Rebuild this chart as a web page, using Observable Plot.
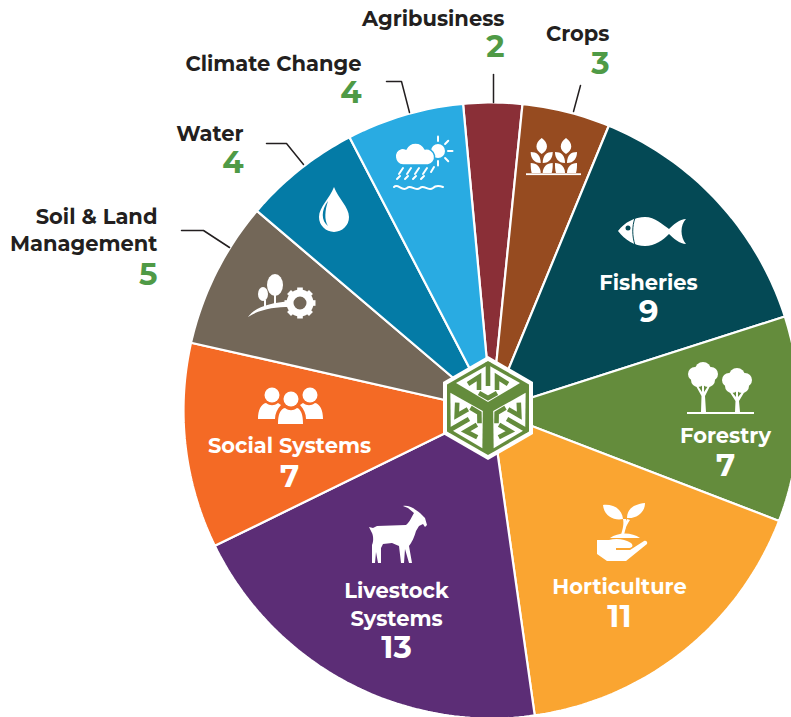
<!DOCTYPE html>
<html>
<head>
<meta charset="utf-8">
<script src="https://cdn.jsdelivr.net/npm/d3@7"></script>
<script src="https://cdn.jsdelivr.net/npm/@observablehq/plot@0.6"></script>
<style>
html,body{margin:0;padding:0;background:#fff}
svg{display:block}
</style>
</head>
<body>
<script>
// ---------- data ----------
const categories = ["Agribusiness","Crops","Fisheries","Forestry","Horticulture","Livestock Systems","Social Systems","Soil & Land Management","Water","Climate Change"];
const counts = [2,3,9,7,11,13,7,5,4,4];
const sliceColors = ["#8a2f37","#964b20","#044955","#648c3c","#faa531","#5c2d76","#f46a25","#736758","#047ba6","#29abe2"];
const labelLines = [["Agribusiness"],["Crops"],["Fisheries"],["Forestry"],["Horticulture"],["Livestock","Systems"],["Social Systems"],["Soil & Land","Management"],["Water"],["Climate Change"]];

// ---------- layout ----------
const pie = {cx:491, cy:410, r:308, startDeg:-5.3};
const labelPlaces = [
  {x:504,y:19,vy:47,anchor:"end",out:true},
  {x:609,y:34,vy:64,anchor:"end",out:true},
  {x:648,y:283,vy:312,anchor:"middle"},
  {x:725,y:436,vy:466,anchor:"middle"},
  {x:619,y:587,vy:617,anchor:"middle"},
  {x:396,y:591,vy:648,anchor:"middle",lh:28},
  {x:289,y:446,vy:477,anchor:"middle"},
  {x:157,y:217,vy:275,anchor:"end",out:true,lh:27},
  {x:243,y:134,vy:163,anchor:"end",out:true},
  {x:361,y:64,vy:93,anchor:"end",out:true}
];
const leaders = [
  [[493,102],[493,74]],
  [[573,111],[580,85]],
  [[229,247],[203,230],[181,230]],
  [[303,164],[286,143],[266,143]],
  [[409,112],[401,81],[386,81]]
];

// ---------- slices ----------
const total = d3.sum(counts);
let acc = 0;
const slicePoints = categories.flatMap((c,i)=>{
  const a0 = pie.startDeg + acc/total*360;
  acc += counts[i];
  const a1 = pie.startDeg + acc/total*360;
  const pts = [{c,x:pie.cx,y:pie.cy}];
  const n = Math.ceil(a1-a0);
  for(let k=0;k<=n;k++){
    const a=(a0+(a1-a0)*k/n)*Math.PI/180;
    pts.push({c,x:pie.cx+pie.r*Math.sin(a),y:pie.cy-pie.r*Math.cos(a)});
  }
  pts.push({c,x:pie.cx,y:pie.cy});
  return pts;
});

// ---------- text rows ----------
const nameRows = categories.flatMap((c,i)=>labelLines[i].map((t,j)=>({
  t, x:labelPlaces[i].x, y:labelPlaces[i].y + j*(labelPlaces[i].lh||0), anchor:labelPlaces[i].anchor, out:!!labelPlaces[i].out
})));
const valueRows = categories.map((c,i)=>({
  t:String(counts[i]), x:labelPlaces[i].x, y:labelPlaces[i].vy, anchor:labelPlaces[i].anchor, out:!!labelPlaces[i].out
}));
const FONT = "Montserrat, Inter, 'Open Sans', sans-serif";
const textMarks = (rows,size,fillOut,fillIn)=>["start","middle","end"].flatMap(an=>
  [true,false].map(o=>Plot.text(rows.filter(r=>r.anchor===an&&r.out===o),{
    x:"x",y:"y",text:"t",textAnchor:an,fontSize:size,fontWeight:700,fontFamily:FONT,
    fill:o?fillOut:fillIn,lineAnchor:"middle"
  })));

// ---------- icons (decorative vector glyphs placed through the scales) ----------
const plant = cx=>`<path d="M${cx} 138C${cx+7} 143 ${cx+7} 150 ${cx} 154C${cx-7} 150 ${cx-7} 143 ${cx} 138Z"/>
<path d="M${cx-1} 163C${cx-8} 163 ${cx-11} 158 ${cx-11} 152C${cx-5} 152 ${cx-1} 155 ${cx-1} 163Z"/>
<path d="M${cx+1} 163C${cx+8} 163 ${cx+11} 158 ${cx+11} 152C${cx+5} 152 ${cx+1} 155 ${cx+1} 163Z"/>
<path d="M${cx-1} 173L${cx-10} 173C${cx-11} 170 ${cx-11} 166 ${cx-11} 163C${cx-5} 163 ${cx-1} 167 ${cx-1} 173Z"/>
<path d="M${cx+1} 173L${cx+10} 173C${cx+11} 170 ${cx+11} 166 ${cx+11} 163C${cx+5} 163 ${cx+1} 167 ${cx+1} 173Z"/>`;
const rays = d3.range(8).filter(i=>i!==4&&i!==5).map(i=>{
  const a=i*Math.PI/4;
  return `<line x1="${438+10*Math.cos(a)}" y1="${151+10*Math.sin(a)}" x2="${438+14.5*Math.cos(a)}" y2="${151+14.5*Math.sin(a)}"/>`;
}).join("");
const rain = [[399,174,403,168],[407,174,411,168],[415,174,419,168],[423,174,427,168],[431,172,434,167],
              [397,179,400,176],[405,179,408,176],[413,179,416,176],[421,179,424,176]]
  .map(l=>`<line x1="${l[0]}" y1="${l[1]}" x2="${l[2]}" y2="${l[3]}"/>`).join("");
const teeth = d3.range(8).map(i=>`<rect x="297.2" y="287.5" width="5.6" height="5" transform="rotate(${i*45} 300 303)"/>`).join("");
const canopy = (cx,cy)=>[[0,-6,8],[-8,-2,7],[8,-2,7],[-5,4,7],[5,4,7],[0,0,8]].map(c=>`<circle cx="${cx+c[0]}" cy="${cy+c[1]}" r="${c[2]}"/>`).join("");
const hexPts = (r,w)=>`0,${-r} ${w},${-r/2} ${w},${r/2} 0,${r} ${-w},${r/2} ${-w},${-r/2}`;
const face = rot=>`<g transform="rotate(${rot})">
<polygon points="0,-6 -32,-25 0,-43 32,-25" fill="#fff"/>
<path d="M0 -46V-22M-20 -24L-9 -31V-18M20 -24L9 -31V-18M-9 -15L0 -10L9 -15" fill="none" stroke="#648c3c" stroke-width="4.6"/>
</g>`;

const iconSvg = `
<g fill="#fff">
  <!-- climate -->
  <circle cx="438" cy="151" r="7"/>
  <g stroke="#fff" stroke-width="2" stroke-linecap="round">${rays}</g>
  <path d="M403 165A8.5 8.5 0 0 1 401 148.5A9 9 0 0 1 406 149A10.5 10.5 0 0 1 425 149A8 8 0 0 1 428 165Z" stroke="#29abe2" stroke-width="1.5"/>
  <g stroke="#fff" stroke-width="2" stroke-linecap="round">${rain}</g>
  <path d="M394 187C398 183 402 192 407 188C411 184 415 192 420 188C424 184 428 192 433 188C436 185 440 186 443 187" fill="none" stroke="#fff" stroke-width="2" stroke-linecap="round"/>
  <!-- crops -->
  ${plant(541.7)}${plant(566)}
  <rect x="526" y="173.3" width="55" height="1.8"/>
  <!-- water -->
  <path d="M334 187C338 198 349 207 349 217A15 15 0 0 1 319 217C319 207 330 198 334 187Z"/>
  <path d="M328 201C321 210 321 221 328 226C324 220 325 210 328 201Z" fill="#047ba6"/>
  <!-- soil -->
  <ellipse cx="263" cy="294" rx="5" ry="7"/>
  <ellipse cx="275" cy="285" rx="8" ry="11"/>
  <path d="M264 300H266L266 306H264ZM274 294H276L276 305H274Z"/>
  <path d="M248 317C255 307 270 303 290 301L290 307C275 307 260 309 248 317Z"/>
  <circle cx="300" cy="303" r="10" fill="none" stroke="#fff" stroke-width="7"/>
  ${teeth}
  <!-- fish -->
  <path d="M618 231C625 222 635 217 645 217C655 217 663 225 669 229C673 225 680 219 686 219C680 225 680 237 686 244C680 244 673 238 669 234C663 240 655 246 645 246C635 246 625 240 618 231Z"/>
  <circle cx="628" cy="228" r="2.5" fill="#044955"/>
  <path d="M635 218C632 226 632 236 635 245" fill="none" stroke="#044955" stroke-width="1"/>
  <!-- forestry -->
  ${canopy(703,376)}${canopy(737,382)}
  <path d="M701 412L701.5 396L696 386H698L702 392V384H704V392L708 386H710L705 396L706 412Z"/>
  <path d="M735 412L735.5 401L729 391H731L736 397V390H738V397L743 391H745L739 401L740 412Z"/>
  <rect x="687" y="412" width="67" height="2"/>
  <!-- horticulture -->
  <path d="M623 519C614 521 604 516 603 505C612 504 622 508 623 519Z"/>
  <path d="M627 518C627 508 635 504 645 503C645 512 637 519 627 518Z"/>
  <path d="M623 519L626 519C626 525 626 528 624 535H621C623 528 624 524 623 519Z"/>
  <path d="M627 519L630 520C628 523 626 526 625 530L624 526C625 523 626 521 627 519Z"/>
  <path d="M610 538C618 532 632 532 640 538Z"/>
  <path d="M597 540H609C616 538 625 539 631 543C634 546 632 548 628 548H616V550L630 550L644 541C646 540 648 542 647 544L626 561H607L597 554Z"/>
  <!-- social -->
  <circle cx="272" cy="395" r="7.5"/><circle cx="310" cy="395" r="7.5"/>
  <path d="M258 419C258 410 261 404 266 403C270 406 274 406 278 403L281 405C277 409 275 414 275 419Z"/>
  <path d="M323 419C323 410 320 404 315 403C311 406 307 406 303 403L300 405C304 409 306 414 306 419Z"/>
  <circle cx="291" cy="399" r="7.5" stroke="#f46a25" stroke-width="0"/>
  <path d="M278 424C278 415 280 409 285 408C289 411 293 411 297 408C301 409 303 415 303 424Z"/>
  <!-- goat -->
  <path d="M369 527L373 528L377 526L406 525C410 522 412 516 414 513L408 508L403 506C410 505 416 510 420 513L425 518L427 525L425 527L423 524L419 526L416 531C414 538 412 542 409 546L412 563L409 563L405 549L404 563L401 563L399 546L392 543L383 544L381 548L381 563L378 563L376 552L375 563L372 563L372 545C374 540 373 535 372 533Z"/>
</g>`;
const logoSvg = cx=>`<g transform="translate(488,408)">
  <polygon points="${hexPts(52,45)}" fill="#fff"/>
  <polygon points="${hexPts(47,41)}" fill="#648c3c"/>
  ${face(0)}${face(120)}${face(240)}
</g>`;
const rawSvg = html => (index, scales) => {
  const g = document.createElementNS("http://www.w3.org/2000/svg","g");
  g.setAttribute("transform",`translate(${scales.x(0)},${scales.y(0)})`);
  g.innerHTML = html;
  return g;
};

const chart = Plot.plot({
  width:791,height:717,margin:0,
  x:{domain:[0,791],range:[0,791],axis:null},
  y:{domain:[0,717],range:[0,717],axis:null},
  color:{domain:categories,range:sliceColors},
  style:{background:"#fff"},
  marks:[
    Plot.line(slicePoints,{x:"x",y:"y",z:"c",fill:"c",stroke:"#fff",strokeWidth:2.2,strokeLinejoin:"miter"}),
    ...leaders.map(l=>Plot.line(l,{x:d=>d[0],y:d=>d[1],stroke:"#231f20",strokeWidth:1.5})),
    rawSvg(iconSvg),
    rawSvg(logoSvg()),
    ...textMarks(nameRows,21,"#231f20","#fff"),
    ...textMarks(valueRows,31,"#4f9a46","#fff")
  ]
});
document.body.appendChild(chart);
</script>
</body>
</html>
